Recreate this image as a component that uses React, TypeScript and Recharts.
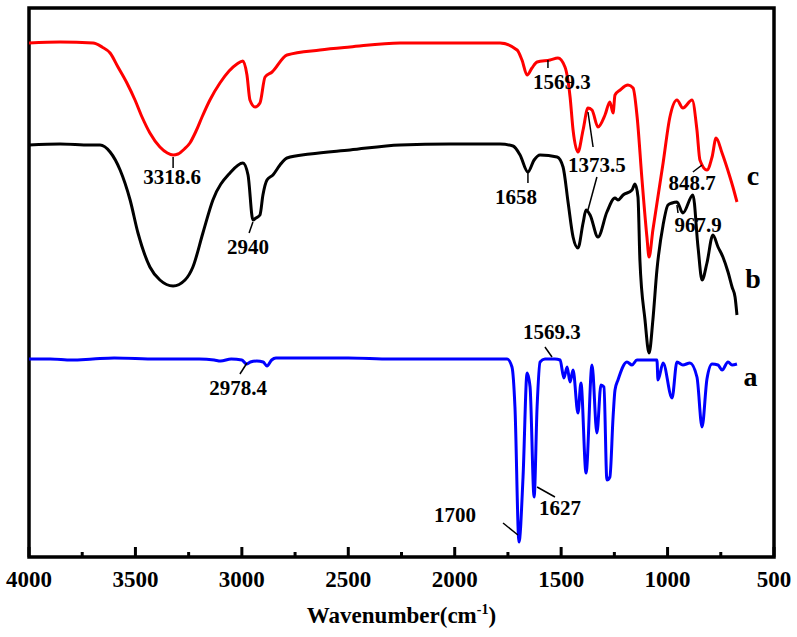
import { LineChart, Line, XAxis, YAxis, ReferenceArea, ReferenceLine, ReferenceDot, Label } from "recharts"

const FONT = '"Liberation Serif", "Times New Roman", serif'

// [wavenumber cm-1, transmittance (a.u., offset per curve)]
const curveA: [number, number][] = [
  [4000, 198], [3900, 198], [3800, 197], [3700, 198], [3600, 199], [3400, 198], [3200, 198],
  [3130, 197], [3100, 196], [3050, 198], [3000, 197], [2978, 193], [2960, 195], [2930, 196],
  [2900, 195], [2882, 191], [2860, 197], [2840, 199], [2700, 199], [2500, 199], [2300, 198],
  [2000, 198], [1800, 198], [1754, 198], [1731, 190], [1717, 150], [1698, 15], [1679, 80],
  [1660, 184], [1646, 170], [1627, 60], [1613, 150], [1599, 195], [1576, 198], [1529, 198],
  [1505, 197], [1487, 179], [1472, 190], [1458, 175], [1444, 187], [1421, 144], [1407, 174],
  [1383, 84], [1355, 192], [1332, 124], [1313, 172], [1299, 170], [1285, 77], [1271, 80],
  [1256, 140], [1247, 167], [1233, 177], [1191, 195], [1167, 192], [1144, 197], [1050, 197],
  [1045, 177], [1021, 194], [979, 159], [956, 195], [928, 192], [895, 194], [862, 180],
  [838, 130], [815, 178], [791, 193], [763, 192], [744, 187], [716, 195], [697, 192], [674, 193],
]

const curveB: [number, number][] = [
  [4000, 412], [3854, 413], [3713, 412], [3666, 412], [3619, 405], [3572, 387], [3525, 357],
  [3488, 324], [3432, 290], [3385, 277], [3323, 271], [3267, 277], [3230, 290], [3183, 324],
  [3136, 357], [3056, 384], [2995, 394], [2971, 382], [2948, 337], [2934, 339], [2915, 342],
  [2901, 362], [2882, 377], [2854, 382], [2821, 392], [2788, 399], [2680, 403], [2492, 407],
  [2257, 412], [2022, 413], [1787, 413], [1726, 411], [1693, 402], [1656, 385], [1627, 397],
  [1599, 402], [1519, 400], [1491, 390], [1467, 354], [1444, 320], [1421, 309], [1397, 334],
  [1383, 347], [1364, 342], [1327, 320], [1285, 345], [1247, 359], [1233, 357], [1209, 362],
  [1167, 367], [1153, 373], [1139, 360], [1130, 297], [1106, 237], [1087, 204], [1069, 237],
  [1050, 287], [1021, 332], [998, 352], [979, 354], [956, 355], [928, 344], [881, 362],
  [857, 310], [838, 277], [815, 294], [787, 322], [763, 310], [740, 300], [716, 285],
  [697, 270], [683, 260], [674, 242],
]

const curveC: [number, number][] = [
  [4000, 514], [3854, 515], [3699, 514], [3657, 510], [3619, 504], [3582, 490], [3540, 474],
  [3502, 457], [3469, 440], [3432, 424], [3385, 410], [3350, 404], [3323, 402], [3300, 403],
  [3270, 408], [3244, 414], [3215, 426], [3187, 440], [3150, 457], [3103, 474], [3060, 486],
  [3023, 493], [2995, 496], [2976, 482], [2962, 457], [2938, 450], [2915, 454], [2891, 480],
  [2858, 485], [2788, 502], [2633, 507], [2492, 510], [2257, 514], [1787, 514], [1707, 507],
  [1684, 497], [1660, 482], [1637, 489], [1613, 495], [1552, 497], [1515, 499], [1482, 490],
  [1458, 460], [1444, 427], [1421, 405], [1397, 427], [1374, 449], [1355, 447], [1327, 430],
  [1294, 442], [1271, 455], [1256, 444], [1247, 462], [1223, 467], [1186, 472], [1162, 469],
  [1143, 440], [1120, 377], [1097, 320], [1087, 300], [1069, 327], [1021, 394], [989, 440],
  [956, 457], [928, 449], [885, 457], [862, 427], [848, 397], [815, 387], [791, 400],
  [772, 419], [744, 404], [707, 380], [693, 370], [674, 355],
]

const xTicks = [4000, 3750, 3500, 3250, 3000, 2750, 2500, 2250, 2000, 1750, 1500, 1250, 1000, 750, 500]

// peak labels: text, anchor [wn, t], leader segments
const peakLabels: { text: string; at: [number, number]; leads: [number, number, number, number][] }[] = [
  { text: "3318.6", at: [3328, 380], leads: [[3323, 400, 3323, 389]] },
  { text: "2940", at: [2971, 310], leads: [[2948, 335, 2966, 324]] },
  { text: "1658", at: [1712, 360], leads: [[1656, 385, 1656, 374]] },
  { text: "1569.3", at: [1496, 475], leads: [[1562, 497, 1562, 489]] },
  { text: "1373.5", at: [1332, 392], leads: [[1374, 445, 1350, 410], [1332, 380, 1374, 347]] },
  { text: "848.7", at: [885, 374], leads: [[881, 385, 838, 392]] },
  { text: "967.9", at: [857, 332], leads: [[956, 352, 951, 344]] },
  { text: "2978.4", at: [3018, 169], leads: [[3009, 183, 2976, 194]] },
  { text: "1569.3", at: [1543, 225], leads: [[1576, 210, 1543, 200]] },
  { text: "1627", at: [1505, 49], leads: [[1613, 70, 1529, 60]] },
  { text: "1700", at: [1999, 42], leads: [[1773, 34, 1703, 22]] },
]

const seriesNames: { text: string; at: [number, number] }[] = [
  { text: "c", at: [599, 380] },
  { text: "b", at: [599, 277] },
  { text: "a", at: [610, 179] },
]

const toRows = (pts: [number, number][]) => pts.map(([wn, t]) => ({ wn, t }))

function WaveTick({ x, y, payload }: any) {
  const major = payload.value % 500 === 0
  return (
    <g>
      <line x1={x} y1={y} x2={x} y2={y - (major ? 10 : 5)} stroke="#000" strokeWidth={3} />
      {major && (
        <text x={x} y={y + 30} textAnchor="middle" fontFamily={FONT} fontWeight="bold" fontSize={23} fill="#000">
          {payload.value}
        </text>
      )}
    </g>
  )
}

function AxisTitle({ viewBox }: any) {
  const cx = viewBox.x + viewBox.width / 2
  return (
    <text x={cx} y={viewBox.y + 66} textAnchor="middle" fontFamily={FONT} fontWeight="bold" fontSize={23} fill="#000">
      Wavenumber(cm
      <tspan dy={-9} fontSize={14}>-1</tspan>
      <tspan dy={9}>)</tspan>
    </text>
  )
}

export default function App() {
  return (
    <div style={{ position: "absolute", left: 0, top: 0, background: "#fff" }}>
      <LineChart width={797} height={637} margin={{ top: 8, right: 23, bottom: 0, left: 29 }}>
        <XAxis
          dataKey="wn"
          type="number"
          domain={[500, 4000]}
          reversed
          allowDataOverflow
          ticks={xTicks}
          interval={0}
          tickSize={0}
          tickMargin={0}
          axisLine={false}
          tickLine={false}
          tick={<WaveTick />}
          height={80}
          label={<Label content={<AxisTitle />} />}
        />
        <YAxis type="number" domain={[0, 549]} allowDataOverflow hide />
        <ReferenceArea x1={4000} x2={500} y1={0} y2={549} fill="none" stroke="#000" strokeWidth={3.5} />
        <Line data={toRows(curveC)} dataKey="t" type="monotone" stroke="#ff0000" strokeWidth={3} dot={false} isAnimationActive={false} />
        <Line data={toRows(curveB)} dataKey="t" type="monotone" stroke="#000000" strokeWidth={3} dot={false} isAnimationActive={false} />
        <Line data={toRows(curveA)} dataKey="t" type="monotone" stroke="#0000ff" strokeWidth={3} dot={false} isAnimationActive={false} />
        {peakLabels.flatMap((p, i) =>
          p.leads.map((s, j) => (
            <ReferenceLine
              key={`lead-${i}-${j}`}
              segment={[{ x: s[0], y: s[1] }, { x: s[2], y: s[3] }]}
              stroke="#000"
              strokeWidth={1.5}
            />
          ))
        )}
        {peakLabels.map((p, i) => (
          <ReferenceDot
            key={`pk-${i}`}
            x={p.at[0]}
            y={p.at[1]}
            shape={(props: any) => (
              <text x={props.cx} y={props.cy} dy="0.34em" textAnchor="middle" fontFamily={FONT} fontWeight="bold" fontSize={21} fill="#000">
                {p.text}
              </text>
            )}
          />
        ))}
        {seriesNames.map((s, i) => (
          <ReferenceDot
            key={`sn-${i}`}
            x={s.at[0]}
            y={s.at[1]}
            shape={(props: any) => (
              <text x={props.cx} y={props.cy} dy="0.3em" textAnchor="middle" fontFamily={FONT} fontWeight="bold" fontSize={28} fill="#000">
                {s.text}
              </text>
            )}
          />
        ))}
      </LineChart>
    </div>
  )
}
